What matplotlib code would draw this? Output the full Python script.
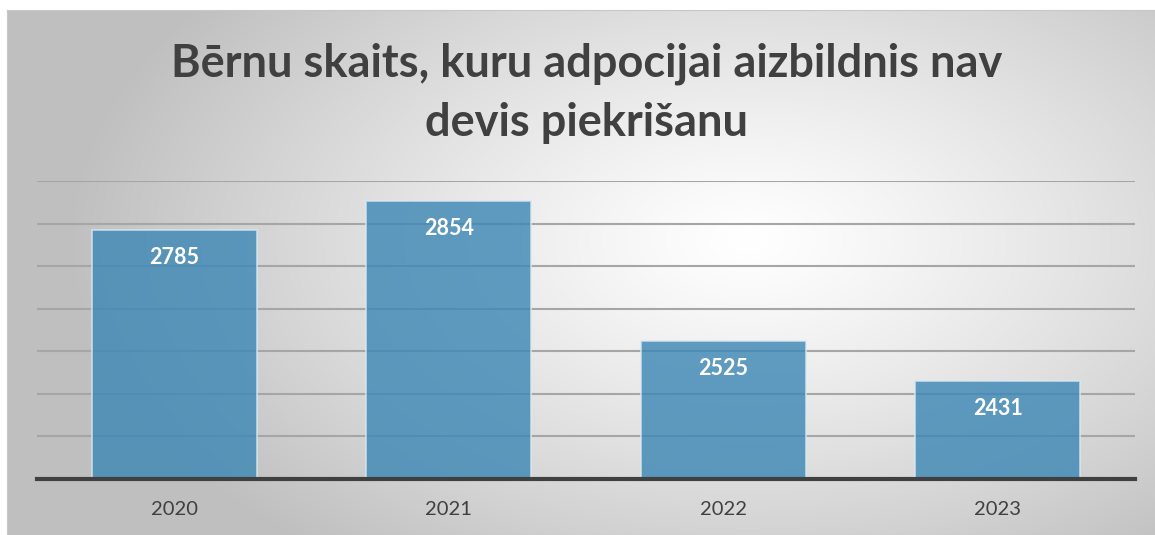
import numpy as np
import matplotlib.pyplot as plt

years = ['2020', '2021', '2022', '2023']
children = [2785, 2854, 2525, 2431]

title = 'Bērnu skaits, kuru adpocijai aizbildnis nav\ndevis piekrišanu'

plt.rcParams['font.family'] = ['Lato', 'DejaVu Sans']

fig = plt.figure(figsize=(11.55, 5.35), dpi=100)

# gradient background of the chart frame
bg = fig.add_axes([7/1155, 0, 1 - 7/1155, 1 - 10/535])
yy, xx = np.mgrid[0:525, 0:1148]
dist = np.sqrt(((xx - 740) / 680.0) ** 2 + ((yy - 230) / 400.0) ** 2)
shade = 1.0 - 0.25 * np.clip(dist, 0, 1) ** 1.2
bg.imshow(np.dstack([shade] * 3), aspect='auto', extent=[0, 1, 0, 1])
bg.set_xticks([])
bg.set_yticks([])
for s in bg.spines.values():
    s.set_color('#c8c8c8')

ax = fig.add_axes([37/1155, (535-479)/535, 1098/1155, (479-181)/535])
ax.set_facecolor('none')
x = np.arange(len(years))
bars = ax.bar(x, children, width=0.6, bottom=0, color='#3f88b5', alpha=0.82,
              edgecolor='#d8e8f2', linewidth=1.2, zorder=3)
ax.set_ylim(2200, 2900)
ax.set_xlim(-0.5, len(years) - 0.5)
ax.set_yticks(range(2300, 2901, 100))
ax.yaxis.grid(True, color='#a6a6a6', linewidth=1.5, zorder=1)
ax.tick_params(axis='y', left=False, labelleft=False)
ax.tick_params(axis='x', bottom=False, labelsize=14.5, labelcolor='#404040', pad=12)
ax.set_xticks(x)
ax.set_xticklabels(years)
for side in ['top', 'right', 'left']:
    ax.spines[side].set_visible(False)
ax.spines['bottom'].set_color('#404040')
ax.spines['bottom'].set_linewidth(3)
ax.spines['bottom'].set_zorder(4)

for xi, v in zip(x, children):
    ax.annotate(str(v), (xi, v), xytext=(0, -20), textcoords='offset points',
                ha='center', va='center', color='white', fontsize=15.5,
                fontweight='bold', zorder=5)

fig.text(0.508, 0.825, title, ha='center', va='center', fontsize=32.5,
         fontweight='bold', color='#404040', linespacing=1.5)

fig.savefig('out.png', dpi=100)
